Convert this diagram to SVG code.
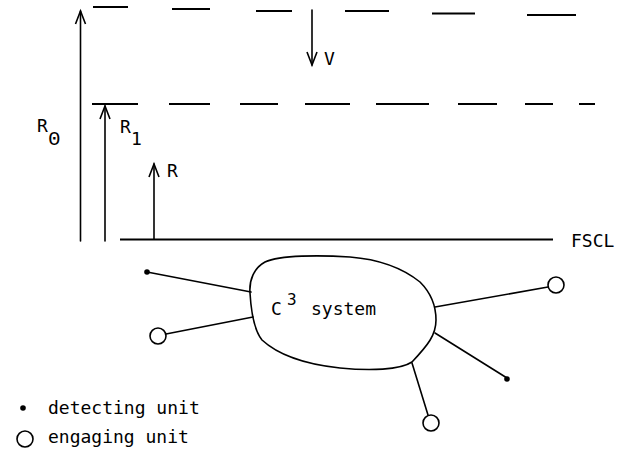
<svg xmlns="http://www.w3.org/2000/svg" width="628" height="456" viewBox="0 0 628 456">
<style>
.ln{stroke:#000;stroke-width:1.6;fill:none;stroke-linecap:round;}
.ds{stroke:#000;stroke-width:2;fill:none;}
.ar{marker-end:url(#ah);}
.t{font-family:"DejaVu Sans Mono","Liberation Mono",monospace;font-size:18px;fill:#000;}
.unit{stroke:#000;stroke-width:1.6;fill:#fff;}
.dot{fill:#000;}
</style>
<defs>
<marker id="ah" markerUnits="userSpaceOnUse" markerWidth="20" markerHeight="20" refX="0" refY="0" orient="auto" overflow="visible">
<path d="M-13,-5 L0,0 L-13,5" fill="none" stroke="#000" stroke-width="1.6" stroke-linejoin="miter"/>
</marker>
</defs>
<rect width="628" height="456" fill="#fff"/>
<g id="levels">
<path class="ds" d="M93,7H128 M172,9H210 M256,11H292 M345,11H389 M432,13.5H475 M527,15H576"/>
<path class="ds" d="M92,104H138 M169,104H210 M240,104H278 M305,104H350 M376,104H429 M458,104H497 M525,104H553 M579,104H595"/>
<path class="ds" d="M120,239.5H553"/>
<text class="t" x="571" y="247">FSCL</text>
</g>
<g id="arrows">
<line class="ln ar" x1="80.5" y1="241" x2="80.5" y2="11"/>
<line class="ln ar" x1="105" y1="241" x2="105" y2="106"/>
<line class="ln ar" x1="154" y1="239" x2="154" y2="164"/>
<line class="ln ar" x1="312" y1="10" x2="312" y2="65"/>
<text class="t" x="37" y="132">R</text><text class="t" x="48" y="145" style="font-family:'Liberation Mono',monospace;font-size:21px">0</text>
<text class="t" x="120" y="133">R</text><text class="t" x="131" y="145">1</text>
<text class="t" x="167" y="177">R</text>
<text class="t" x="324" y="65">V</text>
</g>
<g id="c3system">
<path class="ln" d="M250,293 C249,280 254,268 265,262 C280,255 320,255 350,257 C375,259 400,266 420,282 C430,292 436,305 436,320 C436,335 428,345 412,362 C400,370 370,371 340,368 C300,364 275,352 262,340 C254,330 251,310 250,293 Z"/>
<text class="t" x="271" y="315">C</text>
<text class="t" x="287" y="305" style="font-size:16px">3</text>
<text class="t" x="311" y="315">system</text>
</g>
<g id="connectors">
<line class="ln" x1="147" y1="272" x2="251" y2="292"/>
<line class="ln" x1="166" y1="334" x2="253" y2="317"/>
<line class="ln" x1="435" y1="307" x2="548" y2="287"/>
<line class="ln" x1="435" y1="333" x2="507" y2="378"/>
<line class="ln" x1="412" y1="363" x2="428" y2="415"/>
</g>
<g id="det1"><circle class="dot" cx="147" cy="272" r="2.8"/></g>
<g id="eng1"><circle class="unit" cx="158" cy="336" r="8"/></g>
<g id="eng2"><circle class="unit" cx="556" cy="285" r="8"/></g>
<g id="det2"><circle class="dot" cx="507" cy="379" r="2.8"/></g>
<g id="eng3"><circle class="unit" cx="431" cy="423" r="8"/></g>
<g id="legend">
<circle class="dot" cx="23" cy="408" r="2.8"/>
<text class="t" x="48" y="414">detecting unit</text>
<circle class="unit" cx="25" cy="439" r="8"/>
<text class="t" x="48" y="443">engaging unit</text>
</g>
</svg>
